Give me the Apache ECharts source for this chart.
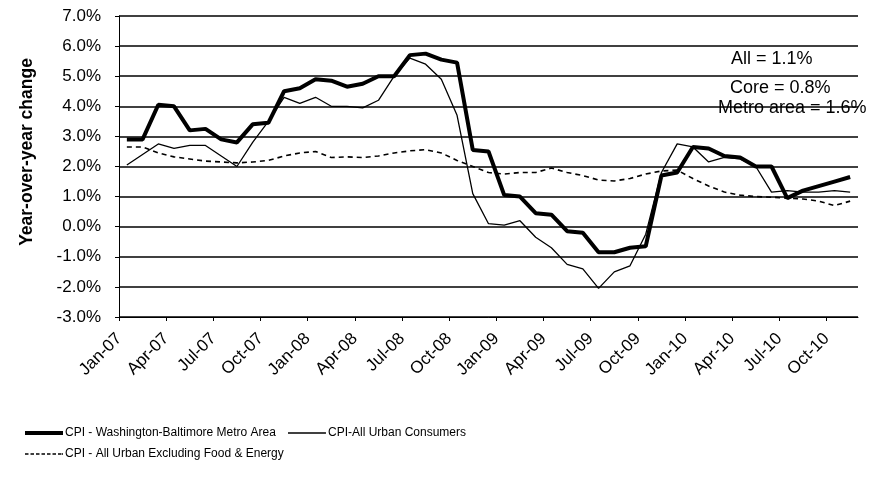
<!DOCTYPE html>
<html>
<head>
<meta charset="utf-8">
<script src="https://cdn.jsdelivr.net/npm/echarts@6/dist/echarts.min.js"></script>
<style>
  html, body { margin: 0; padding: 0; background: #fff; }
  #chart { width: 894px; height: 496px; }
</style>
</head>
<body>
<div id="chart"></div>
<script>
// monthly points, Jan-07 .. Nov-10 (plotted mid-month)
const months = [
  'Jan-07', 'Feb-07', 'Mar-07', 'Apr-07', 'May-07', 'Jun-07', 'Jul-07', 'Aug-07', 'Sep-07', 'Oct-07', 'Nov-07', 'Dec-07',
  'Jan-08', 'Feb-08', 'Mar-08', 'Apr-08', 'May-08', 'Jun-08', 'Jul-08', 'Aug-08', 'Sep-08', 'Oct-08', 'Nov-08', 'Dec-08',
  'Jan-09', 'Feb-09', 'Mar-09', 'Apr-09', 'May-09', 'Jun-09', 'Jul-09', 'Aug-09', 'Sep-09', 'Oct-09', 'Nov-09', 'Dec-09',
  'Jan-10', 'Feb-10', 'Mar-10', 'Apr-10', 'May-10', 'Jun-10', 'Jul-10', 'Aug-10', 'Sep-10', 'Oct-10', 'Nov-10'
]

const metroArea = [
  2.9, 2.9, 4.05, 4.0, 3.2, 3.25, 2.9, 2.8, 3.4, 3.45, 4.5, 4.6,
  4.9, 4.85, 4.65, 4.75, 5.0, 5.0, 5.7, 5.75, 5.55, 5.45, 2.55, 2.5,
  1.05, 1.0, 0.45, 0.4, -0.15, -0.2, -0.85, -0.85, -0.7, -0.65, 1.7, 1.8,
  2.65, 2.6, 2.35, 2.3, 2.0, 2.0, 0.95, 1.2, 1.35, 1.5, 1.65
]

const allUrban = [
  2.05, 2.4, 2.75, 2.6, 2.7, 2.7, 2.35, 2.0, 2.8, 3.5, 4.3, 4.1,
  4.3, 4.0, 4.0, 3.95, 4.2, 5.0, 5.6, 5.4, 4.9, 3.7, 1.1, 0.1,
  0.05, 0.2, -0.35, -0.7, -1.25, -1.4, -2.05, -1.5, -1.3, -0.25, 1.8, 2.75,
  2.65, 2.15, 2.3, 2.25, 2.0, 1.15, 1.2, 1.15, 1.15, 1.2, 1.15
]

const coreExFoodEnergy = [
  2.65, 2.65, 2.45, 2.32, 2.25, 2.18, 2.15, 2.12, 2.15, 2.2, 2.35, 2.45,
  2.5, 2.3, 2.32, 2.3, 2.35, 2.45, 2.52, 2.56, 2.45, 2.2, 2.0, 1.8,
  1.75, 1.8, 1.8, 1.95, 1.8, 1.7, 1.55, 1.52, 1.6, 1.75, 1.85, 1.88,
  1.6, 1.35, 1.15, 1.05, 1.0, 0.98, 0.95, 0.92, 0.85, 0.7, 0.85
]

const seriesNames = [
  'CPI - Washington-Baltimore Metro Area',
  'CPI-All Urban Consumers',
  'CPI - All Urban Excluding Food & Energy'
]

const notes = ['All = 1.1%', 'Core = 0.8%', 'Metro area = 1.6%']

const tickIdx = months.map((m, i) => i).filter(i => i % 3 === 0)
const toPoints = arr => arr.map((v, i) => [i + 0.5, v])

const FONT = 'Liberation Sans, Arial, sans-serif'

// legend swatches: thick bar, thin bar, short dashes
const ICON_THICK = 'path://M0,0H38V4H0Z'
const ICON_THIN = 'path://M0,0H38V1.5H0Z'
const ICON_DASH = 'path://M0,0H3.5V1.5H0Z M5.5,0H9V1.5H5.5Z M11,0H14.5V1.5H11Z M16.5,0H20V1.5H16.5Z M22,0H25.5V1.5H22Z M27.5,0H31V1.5H27.5Z M33,0H36.5V1.5H33Z M37,0H38V1.5H37Z'

const chart = echarts.init(document.getElementById('chart'), null, { renderer: 'canvas' })

const legendText = { color: '#000', fontFamily: FONT, fontSize: 12, padding: [0, 0, 0, -3] }

const option = {
  animation: false,
  backgroundColor: '#fff',
  grid: { left: 119, right: 36, top: 16, bottom: 179 },
  xAxis: {
    type: 'value',
    min: 0, max: months.length,
    axisLine: { onZero: false, lineStyle: { color: '#000', width: 1 } },
    axisTick: { customValues: tickIdx, length: 4, lineStyle: { color: '#000' } },
    axisLabel: {
      customValues: tickIdx,
      rotate: 45, margin: 19,
      color: '#000', fontFamily: FONT, fontSize: 17,
      formatter: v => months[v] || ''
    },
    splitLine: { show: false }
  },
  yAxis: {
    type: 'value',
    min: -3, max: 7, interval: 1,
    axisLine: { show: true, onZero: false, lineStyle: { color: '#000', width: 1 } },
    axisTick: { show: true, length: 4, lineStyle: { color: '#000' } },
    axisLabel: {
      color: '#000', fontFamily: FONT, fontSize: 17, margin: 18,
      formatter: v => v.toFixed(1) + '%'
    },
    splitLine: { lineStyle: { color: '#000', width: 1.6 } }
  },
  legend: [
    {
      data: [
        { name: seriesNames[0], icon: ICON_THICK },
        { name: seriesNames[1], icon: ICON_THIN }
      ],
      left: 20, top: 422,
      itemWidth: 38, itemHeight: 12, itemGap: 12,
      textStyle: legendText
    },
    {
      data: [{ name: seriesNames[2], icon: ICON_DASH }],
      left: 20, top: 443,
      itemWidth: 38, itemHeight: 12,
      textStyle: legendText
    }
  ],
  graphic: [
    {
      type: 'text', x: 27, y: 152, rotation: Math.PI / 2,
      style: {
        text: 'Year-over-year change', fill: '#000',
        font: 'bold 17.5px ' + FONT, align: 'center', verticalAlign: 'middle'
      }
    },
    { type: 'text', x: 731, y: 59, style: { text: notes[0], fill: '#000', font: '18px ' + FONT, verticalAlign: 'middle' } },
    { type: 'text', x: 730, y: 88, style: { text: notes[1], fill: '#000', font: '18px ' + FONT, verticalAlign: 'middle' } },
    { type: 'text', x: 718, y: 108, style: { text: notes[2], fill: '#000', font: '18px ' + FONT, verticalAlign: 'middle' } }
  ],
  series: [
    {
      name: seriesNames[0], type: 'line', data: toPoints(metroArea),
      symbol: 'none', z: 4,
      lineStyle: { color: '#000', width: 4 }, itemStyle: { color: '#000' }
    },
    {
      name: seriesNames[1], type: 'line', data: toPoints(allUrban),
      symbol: 'none', z: 3,
      lineStyle: { color: '#000', width: 1.3 }, itemStyle: { color: '#000' }
    },
    {
      name: seriesNames[2], type: 'line', data: toPoints(coreExFoodEnergy),
      symbol: 'none', z: 2,
      lineStyle: { color: '#000', width: 1.6, type: [5, 4] }, itemStyle: { color: '#000' }
    }
  ]
}

chart.setOption(option)
</script>
</body>
</html>
